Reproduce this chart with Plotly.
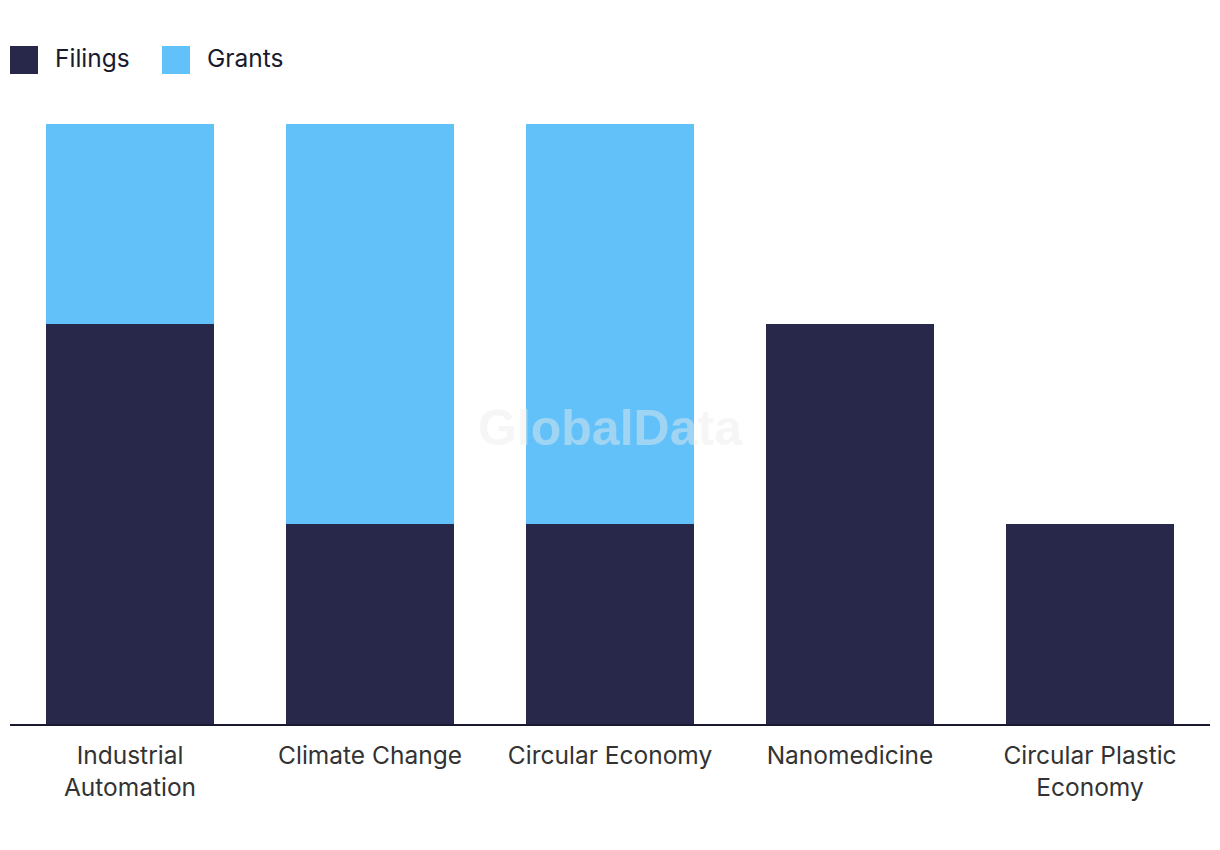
import plotly.graph_objects as go

categories = ["Industrial<br>Automation", "Climate Change", "Circular Economy",
              "Nanomedicine", "Circular Plastic<br>Economy"]
filings = [2, 1, 1, 2, 1]
grants = [1, 2, 2, 0, 0]

FILINGS_COLOR = "#28284b"
GRANTS_COLOR = "#63c1f9"
FONT = "Inter, Roboto, sans-serif"

fig = go.Figure()
fig.add_trace(go.Bar(name="Filings", x=categories, y=filings,
                     marker=dict(color=FILINGS_COLOR, line=dict(width=0))))
fig.add_trace(go.Bar(name="Grants", x=categories, y=grants,
                     marker=dict(color=GRANTS_COLOR, line=dict(width=0))))

fig.update_layout(
    barmode="stack",
    bargap=0.3,
    width=1220, height=850,
    margin=dict(l=2, r=18, t=116, b=134),
    paper_bgcolor="white", plot_bgcolor="white",
    showlegend=False,
    font=dict(family=FONT, size=24.5, color="#333333"),
    xaxis=dict(showline=True, linecolor="#1a1a2e", linewidth=2,
               ticks="", ticklabelstandoff=9,
               tickfont=dict(size=24.5, color="#333333")),
    yaxis=dict(range=[0, 3], visible=False, showgrid=False, zeroline=False),
)

# custom legend (large square swatches)
legend_items = [("Filings", FILINGS_COLOR, 10), ("Grants", GRANTS_COLOR, 162)]
for name, color, x0 in legend_items:
    fig.add_shape(type="rect", xref="paper", yref="paper",
                  x0=(x0 - 10) / 1200, x1=(x0 + 18) / 1200,
                  y0=(724 - 74) / 600, y1=(724 - 46) / 600,
                  fillcolor=color, line=dict(width=0))
    fig.add_annotation(xref="paper", yref="paper",
                       x=(x0 + 33) / 1200, y=(724 - 58) / 600,
                       text=name, showarrow=False, xanchor="left", yanchor="middle",
                       font=dict(family=FONT, size=24.5, color="#1a1a2e"))

# watermark
fig.add_annotation(xref="paper", yref="paper", x=0.5, y=(724 - 428) / 600,
                   text="<b>GlobalData</b>", showarrow=False,
                   font=dict(family="Liberation Sans, Arial, sans-serif", size=50,
                             color="rgba(235,235,235,0.45)"),
                   xanchor="center", yanchor="middle")

fig.write_html("out.html")
